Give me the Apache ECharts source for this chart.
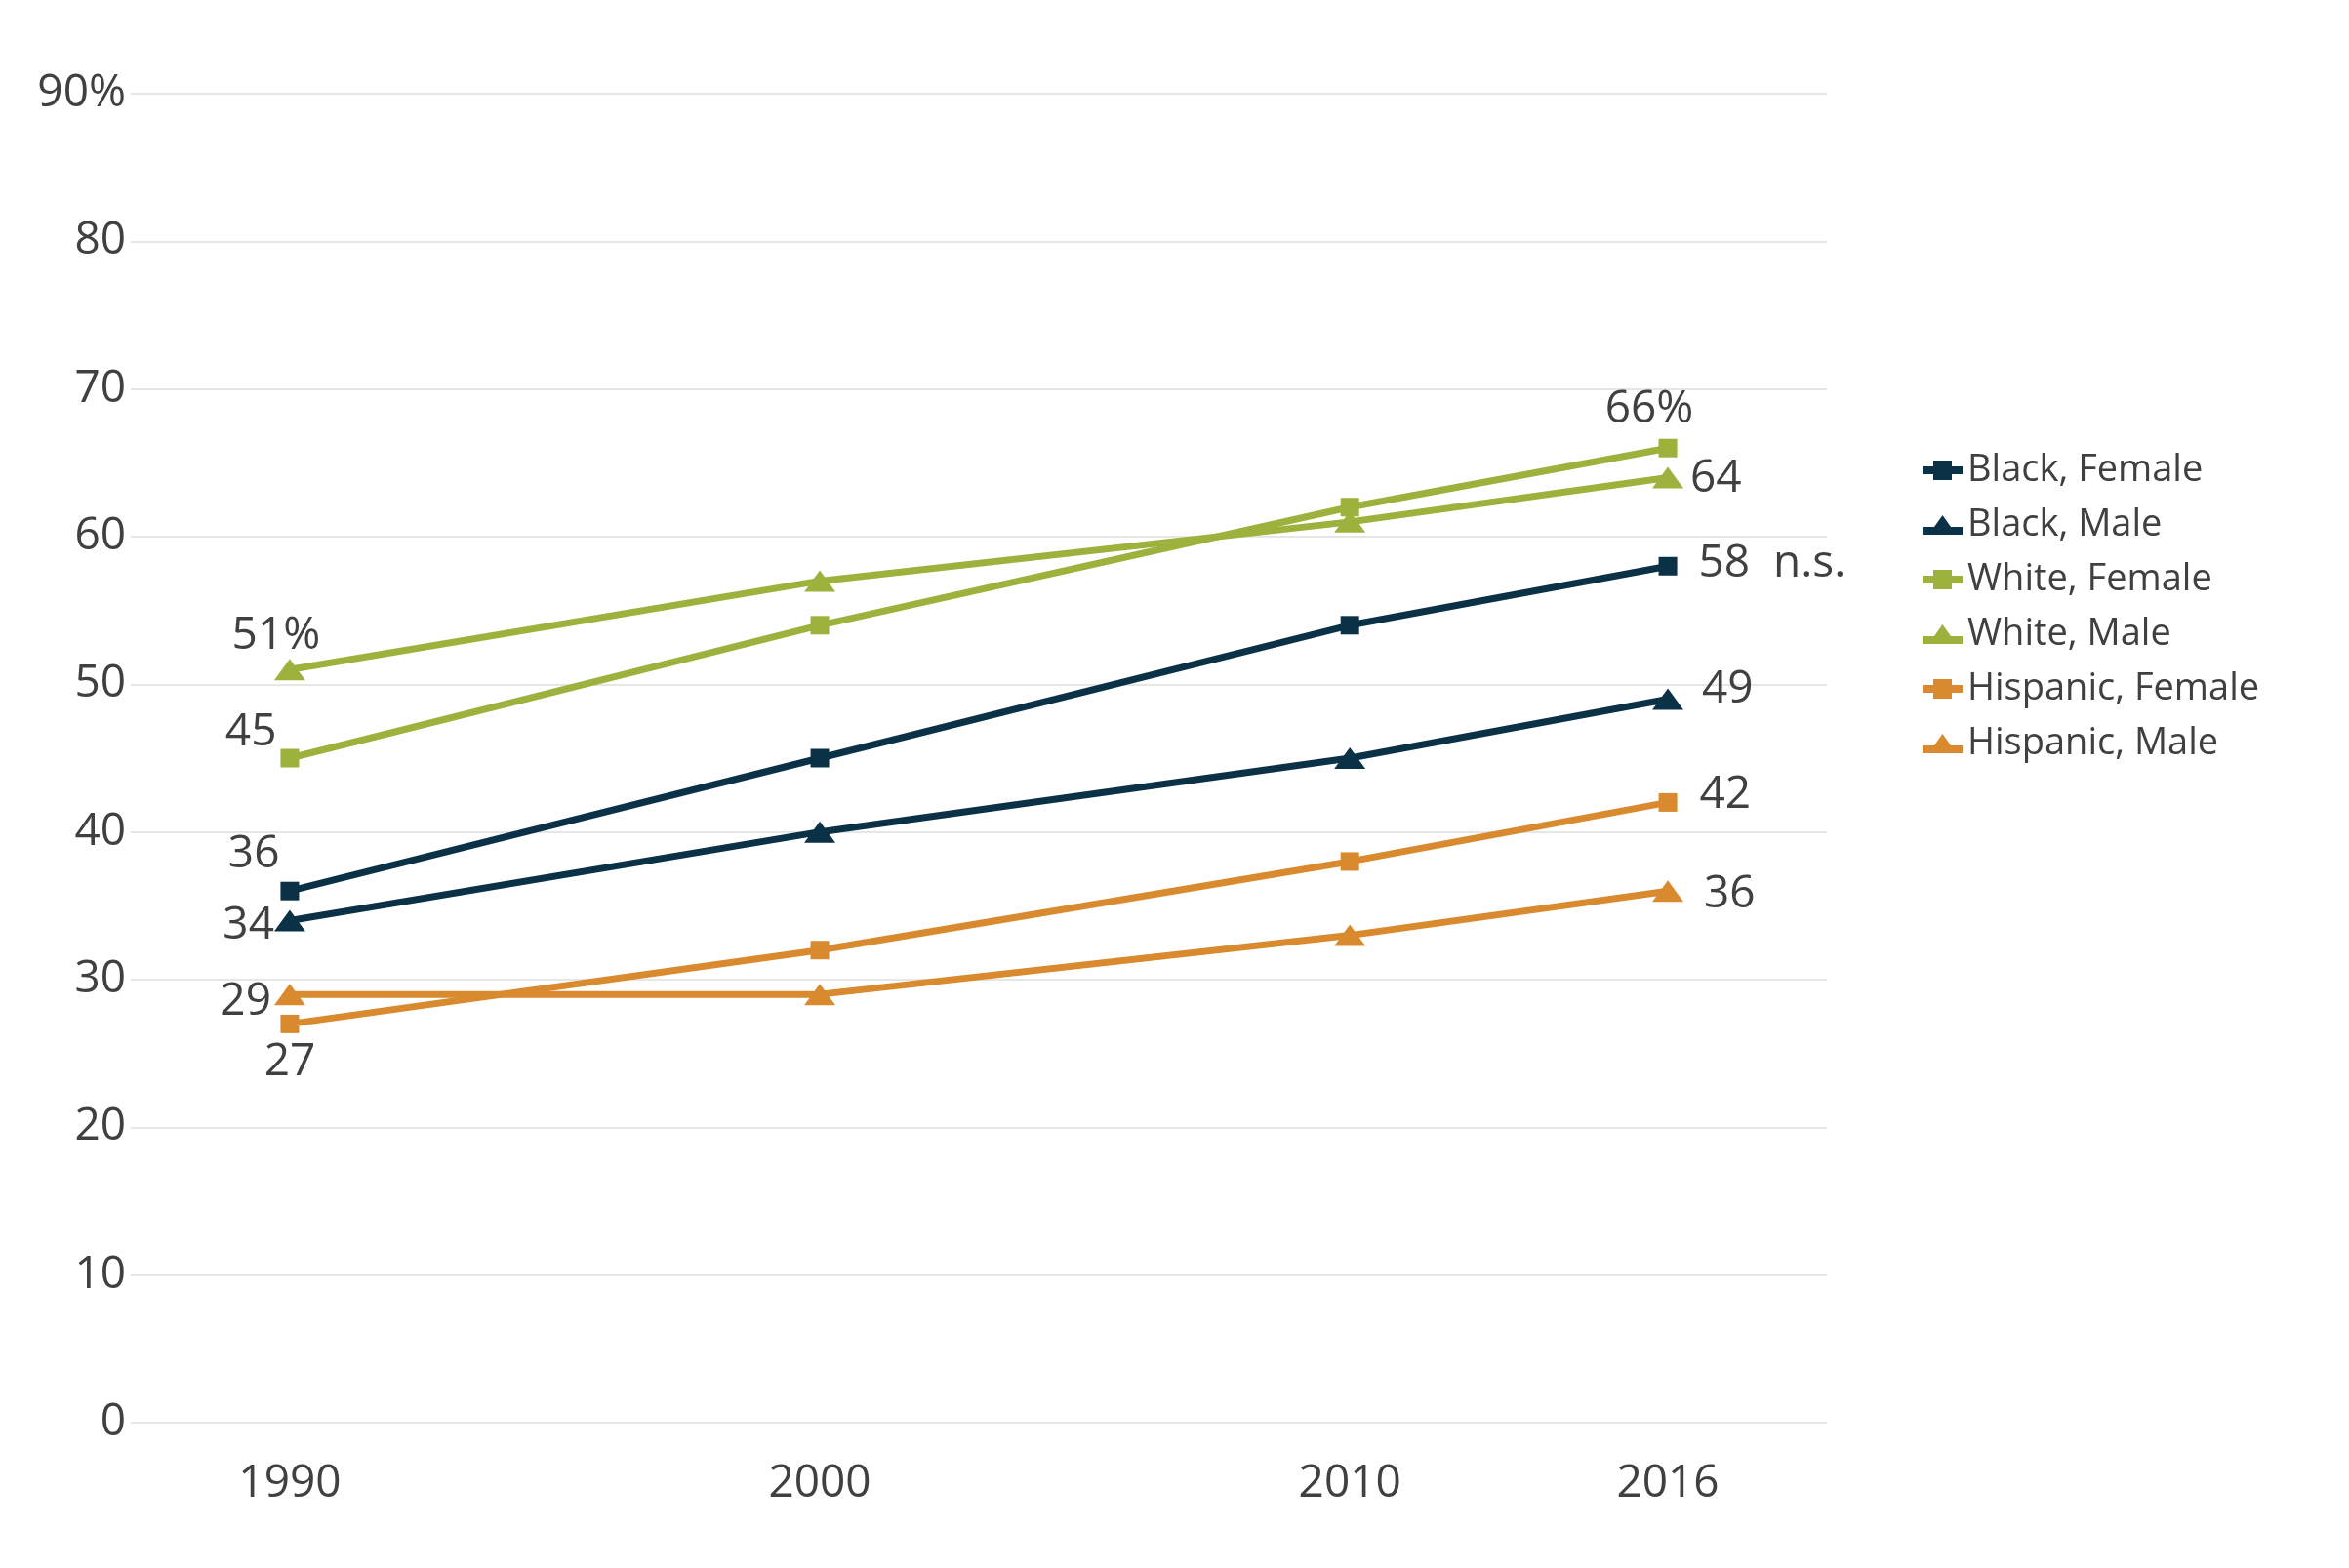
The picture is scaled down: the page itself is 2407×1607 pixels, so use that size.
<!DOCTYPE html>
<html>
<head>
<meta charset="utf-8">
<script src="https://cdn.jsdelivr.net/npm/echarts@6/dist/echarts.min.js"></script>
<style>
html,body{margin:0;padding:0;background:#fff;}
#chart{width:2407px;height:1607px;}
</style>
</head>
<body>
<div id="chart"></div>
<script>
// ---- data ----
const years = [1990, 2000, 2010, 2016];
const seriesNames = ['Black, Female', 'Black, Male', 'White, Female', 'White, Male', 'Hispanic, Female', 'Hispanic, Male'];
const blackFemale = [36, 45, 54, 58];
const blackMale = [34, 40, 45, 49];
const whiteFemale = [45, 54, 62, 66];
const whiteMale = [51, 57, 61, 64];
const hispanicFemale = [27, 32, 38, 42];
const hispanicMale = [29, 29, 33, 36];
const yTicks = [0, 10, 20, 30, 40, 50, 60, 70, 80, 90];

// ---- styling ----
const NAVY = '#0b3146';
const GREEN = '#9cb23c';
const ORANGE = '#da8a2e';
const TEXT = '#404040';
const FONT = '"Open Sans", "Noto Sans", sans-serif';

const values = [blackFemale, blackMale, whiteFemale, whiteMale, hispanicFemale, hispanicMale];
const colors = [NAVY, NAVY, GREEN, GREEN, ORANGE, ORANGE];
const symbols = ['rect', 'triangle', 'rect', 'triangle', 'rect', 'triangle'];

// legend icons: thick line with square / triangle marker
const ICON_SQUARE = 'path://M0,6L11,6L11,0L30,0L30,6L41,6L41,14L30,14L30,20L11,20L11,14L0,14Z';
const ICON_TRIANGLE = 'path://M0,12L12,12L20.5,0L29,12L41,12L41,20L0,20Z';

// label placement for first and last points: [position, distance, offset, suffix]
const labelCfg = [
  [['left', 1, [0, -37], ''], ['right', 22, [0, -2], '  n.s.']],
  [['left', 0, [0, 5], ''], ['right', 19, [0, -10], '']],
  [['left', 4, [0, -26], ''], ['top', 11, [-19, 4], '%']],
  [['top', 5, [-14, 5], '%'], ['right', 7, [0, 1], '']],
  [['bottom', 7, [0, 0], ''], ['right', 23, [0, -8], '']],
  [['left', 3, [0, 8], ''], ['right', 21, [0, 4], '']]
];

function makeLabel(cfg) {
  return {
    show: true,
    position: cfg[0],
    distance: cfg[1],
    offset: cfg[2],
    color: TEXT,
    fontFamily: FONT,
    fontSize: 46,
    formatter: function (p) { return p.value[1] + cfg[3]; }
  };
}

const series = seriesNames.map(function (name, si) {
  const data = years.map(function (yr, i) {
    const item = { value: [yr, values[si][i]] };
    if (i === 0) item.label = makeLabel(labelCfg[si][0]);
    else if (i === years.length - 1) item.label = makeLabel(labelCfg[si][1]);
    return item;
  });
  return {
    name: name,
    type: 'line',
    data: data,
    symbol: symbols[si],
    symbolSize: symbols[si] === 'rect' ? 19 : [32, 22],
    showAllSymbol: true,
    lineStyle: { color: colors[si], width: 7 },
    itemStyle: { color: colors[si] },
    label: { show: false },
    emphasis: { disabled: true },
    animation: false,
    z: 2
  };
});

const chart = echarts.init(document.getElementById('chart'), null, { renderer: 'canvas' });
chart.setOption({
  backgroundColor: '#ffffff',
  animation: false,
  textStyle: { fontFamily: FONT },
  grid: { left: 134, right: 535, top: 96, bottom: 149 },
  legend: {
    orient: 'vertical',
    left: 1965,
    top: 458,
    itemWidth: 41,
    itemHeight: 20,
    itemGap: 18,
    data: seriesNames.map(function (n, i) {
      return { name: n, icon: symbols[i] === 'rect' ? ICON_SQUARE : ICON_TRIANGLE };
    }),
    textStyle: { color: TEXT, fontSize: 38, fontFamily: FONT },
    selectedMode: false
  },
  xAxis: {
    type: 'value',
    min: 1987,
    max: 2019,
    axisLine: { show: false },
    axisTick: { show: false },
    splitLine: { show: false },
    axisLabel: {
      customValues: years,
      color: TEXT,
      fontSize: 46,
      fontFamily: FONT,
      margin: 40,
      formatter: function (v) { return String(v); }
    }
  },
  yAxis: {
    type: 'value',
    min: 0,
    max: 90,
    interval: 10,
    axisLine: { show: false },
    axisTick: { show: false },
    splitLine: { show: true, lineStyle: { color: '#e6e6e6', width: 2 } },
    axisLabel: {
      color: TEXT,
      fontSize: 46,
      fontFamily: FONT,
      margin: 5,
      formatter: function (v) { return v === yTicks[yTicks.length - 1] ? v + '%' : String(v); }
    }
  },
  series: series
});
</script>
</body>
</html>
